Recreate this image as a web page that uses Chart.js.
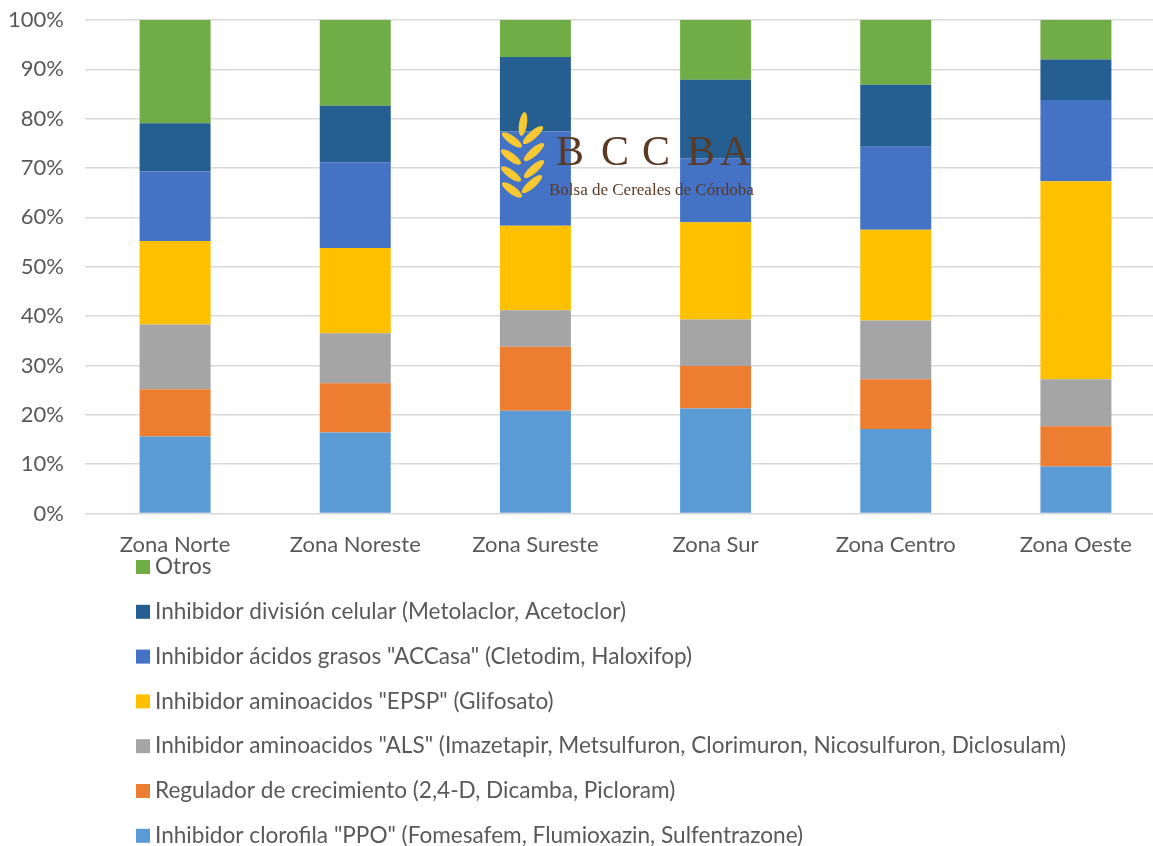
<!DOCTYPE html>
<html>
<head>
<meta charset="utf-8">
<script src="https://cdn.jsdelivr.net/npm/chart.js@4"></script>
<style>
  html, body { margin: 0; padding: 0; background: #fff; overflow: hidden; }
  #wrap { width: 1166px; height: 846px; position: relative; }
</style>
</head>
<body>
<div id="wrap"><canvas id="chart"></canvas></div>
<script>
var zonas = ["Zona Norte", "Zona Noreste", "Zona Sureste", "Zona Sur", "Zona Centro", "Zona Oeste"];

var ppo       = [15.6, 16.4, 20.8, 21.3, 17.1, 9.5];
var regulador = [9.6, 10.0, 13.0, 8.6, 10.1, 8.2];
var als       = [13.1, 10.1, 7.4, 9.4, 11.9, 9.5];
var epsp      = [16.9, 17.3, 17.1, 19.7, 18.4, 40.1];
var accasa    = [14.1, 17.4, 19.1, 13.0, 16.8, 16.5];
var division  = [9.8, 11.4, 15.1, 15.9, 12.6, 8.2];
var otros     = [20.9, 17.4, 7.5, 12.1, 13.1, 8.0];

var yTicks = [0, 10, 20, 30, 40, 50, 60, 70, 80, 90, 100];

var font = "Lato, 'Open Sans', sans-serif";
var textColor = "#595959";

function serie(label, data, color) {
  return {
    label: label,
    data: data,
    backgroundColor: color,
    borderWidth: 0,
    categoryPercentage: 1,
    barPercentage: 0.394
  };
}

// leyenda vertical, en orden inverso como en Excel
var legendPlugin = {
  id: 'vlegend',
  afterDraw: function(chart) {
    var ctx = chart.ctx;
    var ds = chart.data.datasets;
    ctx.save();
    ctx.font = "22.6px " + font;
    ctx.textBaseline = "middle";
    ctx.textAlign = "left";
    var y = 567;
    for (var i = ds.length - 1; i >= 0; i--) {
      ctx.fillStyle = ds[i].backgroundColor;
      ctx.fillRect(136, y - 7, 14, 14);
      ctx.fillStyle = textColor;
      ctx.fillText(ds[i].label, 155, y);
      y += 44.8;
    }
    ctx.restore();
  }
};

// marca de agua BCCBA
var logoPlugin = {
  id: 'logo',
  afterDatasetsDraw: function(chart) {
    var ctx = chart.ctx;
    ctx.save();
    ctx.fillStyle = "#F9C933";
    // espiga
    ctx.beginPath();
    ctx.ellipse(523, 124, 4, 12, 0.15, 0, Math.PI * 2);
    ctx.fill();
    var izq = [[512, 140], [511, 157], [511, 174], [512, 190]];
    var der = [[533, 135], [534, 152], [534, 169], [532, 184]];
    izq.forEach(function(h) {
      ctx.beginPath();
      ctx.ellipse(h[0], h[1], 4, 12, -0.95, 0, Math.PI * 2);
      ctx.fill();
    });
    der.forEach(function(h) {
      ctx.beginPath();
      ctx.ellipse(h[0], h[1], 4, 13, 0.85, 0, Math.PI * 2);
      ctx.fill();
    });
    ctx.fillStyle = "#5B3A24";
    ctx.font = "42px 'Liberation Serif', 'DejaVu Serif', serif";
    ctx.textBaseline = "alphabetic";
    ctx.textAlign = "left";
    var letras = ["B", "C", "C", "B", "A"];
    var lx = [556, 601, 642, 687, 720];
    for (var j = 0; j < letras.length; j++) {
      ctx.fillText(letras[j], lx[j], 165);
    }
    ctx.font = "17px 'Liberation Serif', 'DejaVu Serif', serif";
    ctx.fillText("Bolsa de Cereales de Córdoba", 549, 195);
    ctx.restore();
  }
};

new Chart(document.getElementById("chart"), {
  type: 'bar',
  data: {
    labels: zonas,
    datasets: [
      serie('Inhibidor clorofila "PPO" (Fomesafem, Flumioxazin, Sulfentrazone)', ppo, "#5B9BD5"),
      serie('Regulador de crecimiento (2,4-D, Dicamba, Picloram)', regulador, "#ED7D31"),
      serie('Inhibidor aminoacidos "ALS" (Imazetapir, Metsulfuron, Clorimuron, Nicosulfuron, Diclosulam)', als, "#A5A5A5"),
      serie('Inhibidor aminoacidos "EPSP" (Glifosato)', epsp, "#FFC000"),
      serie('Inhibidor ácidos grasos "ACCasa" (Cletodim, Haloxifop)', accasa, "#4472C4"),
      serie('Inhibidor división celular (Metolaclor, Acetoclor)', division, "#255E91"),
      serie('Otros', otros, "#70AD47")
    ]
  },
  options: {
    responsive: true,
    maintainAspectRatio: false,
    animation: false,
    layout: { padding: { top: 20, left: 8, right: 0, bottom: 287.5 } },
    plugins: {
      legend: { display: false },
      tooltip: { enabled: false }
    },
    scales: {
      x: {
        stacked: true,
        grid: { display: false, drawTicks: false },
        border: { display: false },
        ticks: { color: textColor, font: { family: font, size: 22 }, padding: 18.5, maxRotation: 0 },
        afterFit: function(axis) {
          axis.height = 45;
          axis.paddingLeft = 0;
          axis.paddingRight = 0;
        }
      },
      y: {
        stacked: true,
        min: 0,
        max: 100,
        afterBuildTicks: function(axis) {
          axis.ticks = yTicks.map(function(v) { return { value: v }; });
        },
        grid: { color: "#D9D9D9", lineWidth: 1.5, drawTicks: false },
        border: { display: false },
        ticks: {
          color: textColor,
          font: { family: font, size: 22 },
          padding: 21,
          callback: function(v) { return v + "%"; }
        },
        afterFit: function(axis) {
          axis.width = 77;
          axis.paddingTop = 0;
          axis.paddingBottom = 0;
        }
      }
    }
  },
  plugins: [legendPlugin, logoPlugin]
});
</script>
</body>
</html>
